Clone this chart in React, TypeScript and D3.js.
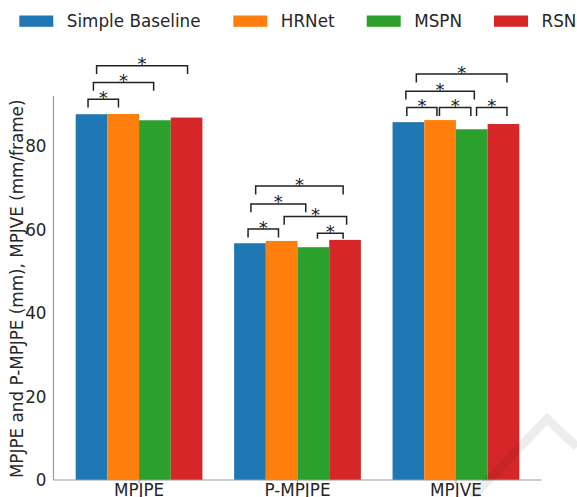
import React from "react";
import * as d3 from "d3";

const categories = ["MPJPE", "P-MPJPE", "MPJVE"];
const seriesNames = ["Simple Baseline", "HRNet", "MSPN", "RSN"];
const seriesColors = ["#1f77b4", "#ff7f0e", "#2ca02c", "#d62728"];
// values[series][category]
const simpleBaseline = [87.6, 56.7, 85.7];
const hrnet = [87.65, 57.25, 86.2];
const mspn = [86.15, 55.75, 84.0];
const rsn = [86.8, 57.5, 85.25];
const values = [simpleBaseline, hrnet, mspn, rsn];
const yTicks = [0, 20, 40, 60, 80];

// significance brackets: group, series a, series b, bracket height (data units), end nudges (in bar slots)
const brackets = [
  { g: 0, a: 0, b: 1, y: 91.2, da: -0.11, db: -0.15 },
  { g: 0, a: 0, b: 2, y: 95.2, da: 0.06, db: -0.04 },
  { g: 0, a: 0, b: 3, y: 99.2, da: 0.16, db: 0.03 },
  { g: 1, a: 0, b: 1, y: 60.1, da: -0.06, db: -0.1 },
  { g: 1, a: 1, b: 3, y: 63.1, da: 0.08, db: 0.05 },
  { g: 1, a: 2, b: 3, y: 59.1, da: 0.13, db: -0.06 },
  { g: 1, a: 0, b: 2, y: 66.1, da: 0.03, db: -0.24 },
  { g: 1, a: 0, b: 3, y: 70.4, da: 0.18, db: -0.06 },
  { g: 2, a: 0, b: 1, y: 89.2, da: -0.05, db: -0.1 },
  { g: 2, a: 1, b: 2, y: 89.2, da: -0.02, db: -0.03 },
  { g: 2, a: 2, b: 3, y: 89.2, da: 0.15, db: 0.11 },
  { g: 2, a: 0, b: 2, y: 93.1, da: -0.08, db: 0.08 },
  { g: 2, a: 0, b: 3, y: 97.2, da: 0.25, db: 0.11 },
];

const W = 577;
const H = 497;
const FONT = "DejaVu Sans, sans-serif";

export default function App() {
  const left = 53.5;
  const right = 541.5;
  const top = 95.7;
  const bottom = 480;
  const barW = 0.2;
  const n = categories.length;
  const xMin = -0.4 - 0.05 * (n - 1 + 0.8);
  const xMax = n - 1 + 0.4 + 0.05 * (n - 1 + 0.8);
  const x = d3.scaleLinear().domain([xMin, xMax]).range([left, right]);
  const maxV = d3.max(values.flat()) as number;
  const y = d3.scaleLinear().domain([0, maxV * 1.05]).range([bottom, top]);
  const barCenter = (g: number, s: number) => g + (s - 1.5) * barW;
  const axisColor = "#9a9a9a";
  const textColor = "#262626";
  const drop = 2;

  const legendX = [19.3, 233.3, 366.7, 494];

  return (
    <svg width={W} height={H} style={{ position: "absolute", left: 0, top: 0 }} fontFamily={FONT}>
      <rect x={0} y={0} width={W} height={H} fill="#fff" />
      {/* bars */}
      {values.map((vals, s) =>
        vals.map((v, g) => (
          <rect
            key={`b${s}-${g}`}
            x={x(barCenter(g, s) - barW / 2)}
            y={y(v)}
            width={x(barW) - x(0)}
            height={y(0) - y(v)}
            fill={seriesColors[s]}
          />
        ))
      )}
      {/* axes */}
      <line x1={left} x2={left} y1={top} y2={bottom} stroke={axisColor} strokeWidth={1.2} />
      <line x1={left} x2={right} y1={bottom} y2={bottom} stroke={axisColor} strokeWidth={1.2} />
      {yTicks.map((t) => (
        <text key={`yt${t}`} x={left - 7} y={y(t)} dy="0.36em" textAnchor="end" fontSize={16.8} fill={textColor}>
          {t}
        </text>
      ))}
      {categories.map((c, g) => (
        <g key={`xt${g}`}>
          <line x1={x(g)} x2={x(g)} y1={bottom} y2={bottom + 3.5} stroke={axisColor} strokeWidth={1} />
          <text x={x(g)} y={495.5} textAnchor="middle" fontSize={16.8} fill={textColor}>
            {c}
          </text>
        </g>
      ))}
      <text
        transform={`translate(22.5, ${(top + bottom) / 2 + 1}) rotate(-90)`}
        textAnchor="middle"
        fontSize={16.8}
        fill={textColor}
      >
        MPJPE and P-MPJPE (mm), MPJVE (mm/frame)
      </text>
      {/* brackets */}
      {brackets.map((br, i) => {
        const xa = x(barCenter(br.g, br.a) + br.da * barW);
        const xb = x(barCenter(br.g, br.b) + br.db * barW);
        const maxBar = Math.max(values[br.a][br.g], values[br.b][br.g]);
        const d = Math.min(drop, br.y - maxBar - 0.3);
        const yl = y(br.y);
        const yd = y(br.y - d);
        return (
          <g key={`br${i}`}>
            <path
              d={`M${xa},${yd}L${xa},${yl}L${xb},${yl}L${xb},${yd}`}
              fill="none"
              stroke="#222"
              strokeWidth={1.5}
            />
            <text x={(xa + xb) / 2} y={yl + 4.5} textAnchor="middle" fontSize={18} fill="#222">
              *
            </text>
          </g>
        );
      })}
      {/* legend */}
      {seriesNames.map((name, s) => (
        <g key={`lg${s}`}>
          <rect x={legendX[s]} y={15.5} width={34} height={11.3} fill={seriesColors[s]} />
          <text x={legendX[s] + 47.5} y={27} fontSize={16.8} fill={textColor}>
            {name}
          </text>
        </g>
      ))}
      {/* faint watermark */}
      <polyline
        points="472,497 547,419 577,447"
        fill="none"
        stroke="#000"
        strokeOpacity={0.07}
        strokeWidth={9}
      />
    </svg>
  );
}
